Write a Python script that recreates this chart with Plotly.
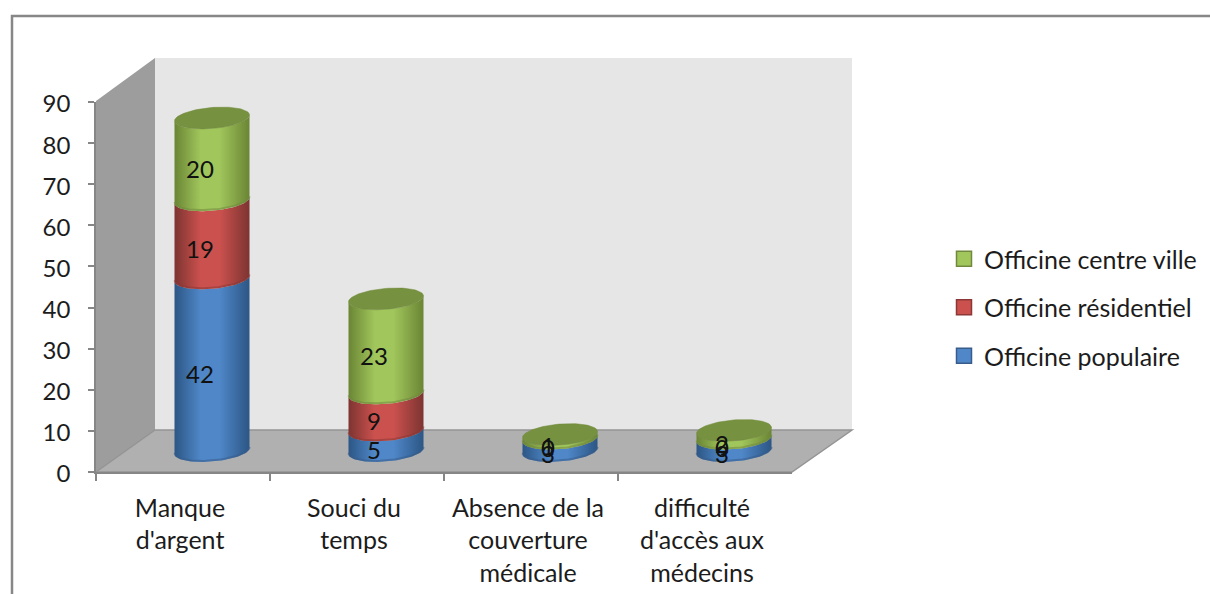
import numpy as np
import plotly.graph_objects as go

categories = ["Manque<br>d'argent", "Souci du<br>temps", "Absence de la<br>couverture<br>médicale", "difficulté<br>d'accès aux<br>médecins"]
officine_populaire = [42, 5, 3, 3]
officine_residentiel = [19, 9, 0, 0]
officine_centre_ville = [20, 23, 1, 2]
y_ticks = [0, 10, 20, 30, 40, 50, 60, 70, 80, 90]

W, H = 1210, 594
FONT = "Lato"
TXT = "#1c1c1c"
GRAY = "#868686"
PX_L, PX_R, PX_T, PX_B = 96, 792, 102, 472
DX, DY = 29, 21
PXU = (PX_B - PX_T) / 90.0
CATW = (PX_R - PX_L) / 4.0
RX = 37.5 / CATW
RY = 10.5 / PXU
SH = 3.0 / PXU

series = [
    ("Officine populaire", officine_populaire, "#2c5685", "#4f87c8", "#385D8A"),
    ("Officine résidentiel", officine_residentiel, "#7d3431", "#cb514e", "#8C3836"),
    ("Officine centre ville", officine_centre_ville, "#6a8534", "#a1c65c", "#71893F"),
]

fig = go.Figure()

# base trace: carries the category axis
fig.add_trace(go.Scatter(x=categories, y=[0] * 4, mode="none", showlegend=False,
                         hoverinfo="skip", xaxis="x", yaxis="y"))


def arc(cx, level, start=np.pi, stop=0.0):
    t = np.linspace(start, stop, 48)
    return cx + RX * np.cos(t), level + SH * np.cos(t) - RY * np.sin(t)


annotations = []
totals = np.zeros(4)
for name, vals, dark, mid, rim in series:
    for i, v in enumerate(vals):
        cx = i + 1
        lo, hi = totals[i], totals[i] + v
        if v > 0:
            xb, yb = arc(cx, lo)
            xt, yt = arc(cx, hi)
            fig.add_trace(go.Scatter(
                x=np.concatenate([xb, xt[::-1], xb[:1]]),
                y=np.concatenate([yb, yt[::-1], yb[:1]]),
                mode="lines", line=dict(width=0, color=mid), fill="toself",
                fillgradient=dict(type="horizontal", colorscale=[
                    [0, dark], [0.35, mid], [0.6, mid], [1, dark]]),
                showlegend=False, legendgroup=name, hoverinfo="skip", xaxis="x2", yaxis="y2"))
            fig.add_trace(go.Scatter(
                x=xb, y=yb + 0.25, mode="lines", line=dict(width=2, color=rim),
                opacity=0.55, showlegend=False, legendgroup=name, hoverinfo="skip",
                xaxis="x2", yaxis="y2"))
        annotations.append(dict(x=cx, y=lo + v / 2.0, xref="x2", yref="y2", text=str(v),
                                showarrow=False, xshift=-12, yshift=-9,
                                font=dict(family=FONT, size=24, color="#111111")))
    totals = totals + np.array(vals, dtype=float)

# top caps
for i, top in enumerate(totals):
    t = np.linspace(0, 2 * np.pi, 96)
    fig.add_trace(go.Scatter(
        x=(i + 1) + RX * np.cos(t), y=top + SH * np.cos(t) - RY * np.sin(t),
        mode="lines", line=dict(width=0.5, color="#6e8839"), fill="toself",
        fillcolor="#76913f", showlegend=False, hoverinfo="skip", xaxis="x2", yaxis="y2"))

# legend keys, top to bottom
for name, vals, dark, mid, rim in series[::-1]:
    fig.add_trace(go.Scatter(
        x=[None], y=[None], mode="markers", name=name, legendgroup=name,
        marker=dict(symbol="square", size=15, color=mid, line=dict(color=rim, width=1.5)),
        xaxis="x", yaxis="y"))


def px(x):
    return x / W


def py(y):
    return 1 - y / H


def poly(points):
    return "M " + " L ".join(f"{px(a):.5f},{py(b):.5f}" for a, b in points) + " Z"


BL, BR = PX_L + 59, PX_R + 60
BT, BB = 58, 430
shapes = [
    dict(type="path", xref="paper", yref="paper", layer="below", line=dict(width=0),
         fillcolor="#e6e6e6", path=poly([(BL, BT), (BR, BT), (BR, BB), (BL, BB)])),
    dict(type="path", xref="paper", yref="paper", layer="below", line=dict(width=0),
         fillcolor="#9d9d9d", path=poly([(PX_L, 101), (BL, BT), (BL, BB), (PX_L, PX_B)])),
    dict(type="path", xref="paper", yref="paper", layer="below",
         line=dict(width=1.5, color="#949494"), fillcolor="#b0b0b0",
         path=poly([(PX_L, PX_B), (BL, BB), (BR, BB), (PX_R, PX_B)])),
    dict(type="path", xref="paper", yref="paper", layer="below",
         line=dict(width=2.5, color="#878787"), fillcolor="rgba(0,0,0,0)",
         path="M %.5f,0 L %.5f,%.5f L 1,%.5f" % (px(12), px(12), py(16), py(16))),
]

fig.update_layout(
    width=W, height=H, margin=dict(l=0, r=0, t=0, b=0, autoexpand=False),
    paper_bgcolor="white", plot_bgcolor="rgba(0,0,0,0)", shapes=shapes,
    annotations=annotations, hovermode=False,
    font=dict(family=FONT, size=24, color=TXT),
    xaxis=dict(domain=[px(PX_L), px(PX_R)], type="category", categoryorder="array",
               categoryarray=categories, range=[-0.5, 3.5], tickson="boundaries",
               ticks="outside", ticklen=7, tickcolor=GRAY, tickwidth=1.5, showgrid=False,
               showline=True, linecolor=GRAY, linewidth=1.5, zeroline=False, anchor="y",
               ticklabelstandoff=13, ticklabelshift=-3,
               tickfont=dict(family=FONT, size=25, color=TXT)),
    yaxis=dict(domain=[py(PX_B), py(PX_T)], range=[0, 90], tickvals=y_ticks,
               ticks="outside", ticklen=6, tickcolor=GRAY, tickwidth=1.5, showgrid=False,
               showline=True, linecolor=GRAY, linewidth=1.5, zeroline=False, anchor="x",
               ticklabelstandoff=13, ticklabelshift=2,
               tickfont=dict(family=FONT, size=24, color=TXT)),
    xaxis2=dict(domain=[px(PX_L + DX), px(PX_R + DX)], range=[0.5, 4.5], visible=False,
                anchor="y2"),
    yaxis2=dict(domain=[py(PX_B - DY + 10 * PXU), py(PX_T - DY)], range=[-10, 90],
                visible=False, anchor="x2"),
    showlegend=True,
    legend=dict(x=px(944), xanchor="left", y=py(236), yanchor="top",
                traceorder="grouped", tracegroupgap=13, itemsizing="trace",
                bgcolor="rgba(0,0,0,0)", font=dict(family=FONT, size=25, color=TXT)),
)

fig.write_html("out.html", config={"displayModeBar": False},
               post_script="document.body.style.margin='0';")
